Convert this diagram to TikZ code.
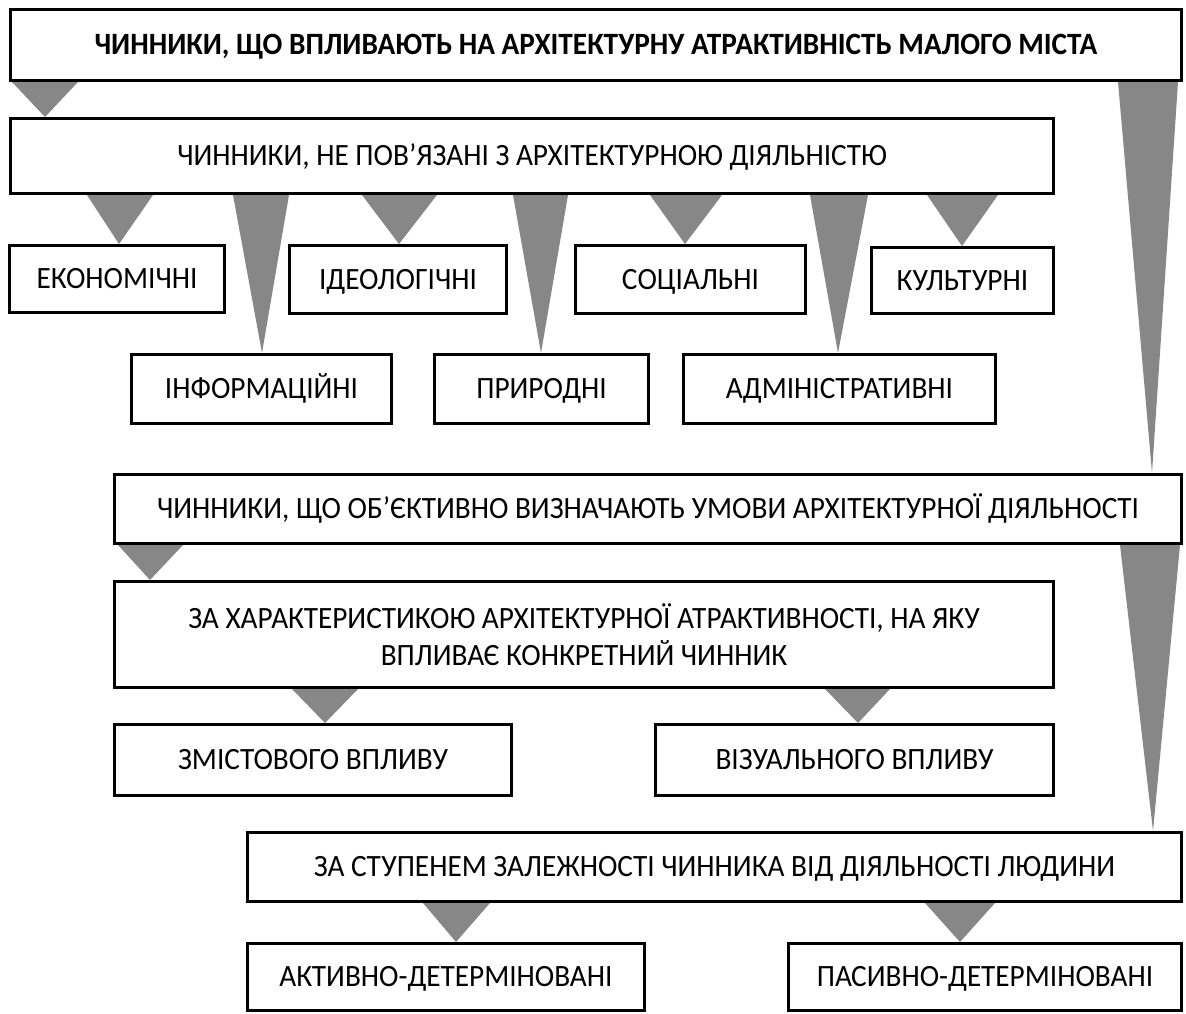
\documentclass[tikz,border=0pt]{standalone}
\usepackage{fontspec}
\setmainfont{Carlito}[FakeStretch=0.945]
\usetikzlibrary{calc}
\pgfdeclarelayer{background}
\pgfsetlayers{background,main}
\definecolor{trigray}{gray}{0.53}
\tikzset{
  boxbase/.style={draw=black, line width=3.4pt, fill=white, inner sep=0pt, align=center,
    font=\fontsize{31}{37}\selectfont},
  box/.style={boxbase, text height=19.6pt, text depth=0pt},
  tri/.style={fill=trigray},
}
\newcommand\bx[7][box]{\node[#1, minimum width={#5-#3-3.4}, minimum height={#6-#4-3.4}] (#2) at ({(#3+#5)/2},{(#4+#6)/2}) {#7};}
\newcommand\tri[5]{\fill[tri] (#2,0 |- #1.south) -- (#3,0 |- #1.south) -- (#5,0 |- #4.north) -- cycle;}
\begin{document}
\begin{tikzpicture}[x=1pt,y=-1pt]
\useasboundingbox (0,0) rectangle (1186,1014);
\bx{title}{9}{8}{1183}{82}{\textbf{ЧИННИКИ, ЩО ВПЛИВАЮТЬ НА АРХІТЕКТУРНУ АТРАКТИВНІСТЬ МАЛОГО МІСТА}}
\bx{b2}{9}{117}{1055}{195}{ЧИННИКИ, НЕ ПОВ’ЯЗАНІ З АРХІТЕКТУРНОЮ ДІЯЛЬНІСТЮ}
\bx{econ}{8}{244}{226}{314}{ЕКОНОМІЧНІ}
\bx{ideol}{288}{244}{508}{315}{ІДЕОЛОГІЧНІ}
\bx{social}{574}{244}{807}{315}{СОЦІАЛЬНІ}
\bx{cult}{870}{246}{1055}{315}{КУЛЬТУРНІ}
\bx{info}{130}{353}{393}{425}{ІНФОРМАЦІЙНІ}
\bx{pryrod}{433}{353}{650}{425}{ПРИРОДНІ}
\bx{admin}{682}{353}{997}{425}{АДМІНІСТРАТИВНІ}
\bx{b3}{113}{473}{1183}{545}{ЧИННИКИ, ЩО ОБ’ЄКТИВНО ВИЗНАЧАЮТЬ УМОВИ АРХІТЕКТУРНОЇ ДІЯЛЬНОСТІ}
\bx[boxbase]{b4}{113}{580}{1055}{689}{ЗА ХАРАКТЕРИСТИКОЮ АРХІТЕКТУРНОЇ АТРАКТИВНОСТІ, НА ЯКУ\\ВПЛИВАЄ КОНКРЕТНИЙ ЧИННИК}
\bx{zmist}{113}{723}{513}{797}{ЗМІСТОВОГО ВПЛИВУ}
\bx{vizual}{654}{723}{1055}{797}{ВІЗУАЛЬНОГО ВПЛИВУ}
\bx{b5}{246}{831}{1183}{903}{ЗА СТУПЕНЕМ ЗАЛЕЖНОСТІ ЧИННИКА ВІД ДІЯЛЬНОСТІ ЛЮДИНИ}
\bx{activ}{246}{942}{646}{1012}{АКТИВНО-ДЕТЕРМІНОВАНІ}
\bx{pasiv}{787}{942}{1183}{1012}{ПАСИВНО-ДЕТЕРМІНОВАНІ}
\begin{pgfonlayer}{background}
\tri{title}{12}{78}{b2}{45}
\tri{title}{1118}{1178}{b3}{1152}
\tri{b2}{87}{153}{econ}{119}
\tri{b2}{233}{289}{info}{262}
\tri{b2}{362}{437}{ideol}{399}
\tri{b2}{513}{568}{pryrod}{541}
\tri{b2}{650}{722}{social}{685}
\tri{b2}{810}{868}{admin}{838}
\tri{b2}{927}{998}{cult}{962}
\tri{b3}{118}{183}{b4}{150}
\tri{b3}{1120}{1180}{b5}{1153}
\tri{b4}{292}{358}{zmist}{325}
\tri{b4}{825}{890}{vizual}{858}
\tri{b5}{423}{490}{activ}{456}
\tri{b5}{925}{995}{pasiv}{960}
\end{pgfonlayer}
\end{tikzpicture}
\end{document}
